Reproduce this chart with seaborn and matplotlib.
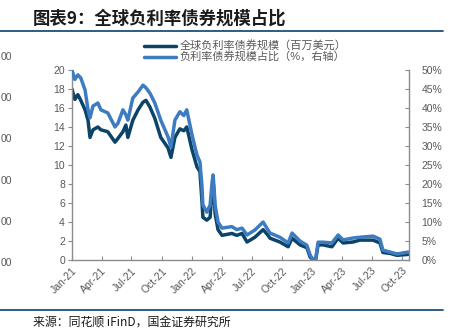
import numpy as np
import pandas as pd
import matplotlib
matplotlib.use("Agg")
import matplotlib.pyplot as plt
import matplotlib.dates as mdates
from matplotlib.lines import Line2D
import seaborn as sns

# ---------------- data ----------------
dates = [
    "2021-01-01", "2021-01-10", "2021-01-19", "2021-01-28", "2021-02-10", "2021-02-19", "2021-02-25",
    "2021-03-06", "2021-03-21", "2021-03-30", "2021-04-20", "2021-05-12", "2021-05-21",
    "2021-06-05", "2021-06-14", "2021-06-20", "2021-07-05", "2021-07-21", "2021-08-05",
    "2021-08-14", "2021-08-26", "2021-09-10", "2021-09-28", "2021-10-20", "2021-10-29",
    "2021-11-10", "2021-11-25", "2021-12-07", "2021-12-16", "2022-01-01", "2022-01-16",
    "2022-01-25", "2022-01-31", "2022-02-03", "2022-02-15", "2022-02-25", "2022-03-03",
    "2022-03-06", "2022-03-09", "2022-03-12", "2022-03-21", "2022-04-02", "2022-05-02",
    "2022-05-17", "2022-06-02", "2022-06-17", "2022-07-11", "2022-08-05", "2022-08-20",
    "2022-08-26", "2022-09-25", "2022-10-20", "2022-11-01", "2022-11-25", "2022-12-16",
    "2022-12-26", "2023-01-02", "2023-01-12", "2023-01-19", "2023-02-03", "2023-03-02", "2023-03-21",
    "2023-04-05", "2023-05-05", "2023-05-26", "2023-07-05", "2023-07-26", "2023-08-04",
    "2023-08-26", "2023-09-16", "2023-10-20",
]
bond_size = [
    18.0, 16.9, 17.4, 16.8, 15.8, 14.7, 12.9,
    13.7, 14.0, 13.7, 13.5, 12.4, 12.8,
    13.5, 14.2, 12.9, 14.7, 15.8, 16.6,
    16.8, 16.1, 14.9, 12.9, 11.8, 10.8,
    12.9, 13.8, 13.6, 14.0, 11.6, 9.8,
    9.3, 6.3, 4.5, 4.2, 4.5, 7.5,
    8.2, 7.0, 4.9, 3.2, 2.6, 2.8,
    2.6, 2.8, 1.9, 2.4, 3.2, 2.6,
    2.3, 1.9, 1.4, 2.3, 1.6, 1.3,
    0.3, 0.1, 0.1, 1.6, 1.6, 1.4, 2.3,
    1.8, 1.9, 2.1, 2.1, 1.8, 0.8,
    0.7, 0.5, 0.6,
]
bond_share = [
    50.0, 47.5, 48.7, 47.9, 44.7, 39.5, 37.4,
    40.5, 41.3, 39.5, 38.7, 35.0, 36.0,
    39.5, 38.2, 36.8, 42.6, 44.2, 46.0,
    45.3, 43.9, 41.3, 36.8, 32.4, 29.7,
    36.8, 39.0, 38.0, 39.5, 32.9, 27.6,
    25.8, 19.7, 14.5, 12.6, 14.5, 20.5,
    22.4, 19.0, 14.5, 10.0, 8.4, 8.8,
    8.0, 8.4, 6.6, 7.9, 10.0, 7.9,
    7.1, 6.0, 4.5, 7.1, 5.0, 3.9,
    1.3, 0.3, 0.3, 4.7, 4.7, 4.5, 6.6,
    5.3, 5.8, 6.0, 6.3, 5.5, 2.6,
    2.1, 1.6, 2.1,
]
left_ticks = list(range(0, 21, 2))
right_ticks = list(range(0, 51, 5))
tick_dates = pd.date_range("2021-01-01", "2023-10-01", freq="3MS")

title_text = "图表9：全球负利率债券规模占比"
legend_labels = ["全球负利率债券规模（百万美元）", "负利率债券规模占比（%，右轴）"]
source_text = "来源：同花顺 iFinD，国金证券研究所"

# ---------------- styling ----------------
sns.set_style("white")
plt.rcParams["font.family"] = ["Liberation Sans", "Noto Sans CJK SC", "DejaVu Sans"]

DARK = "#0b4468"
LIGHT = "#3d7cc0"
GREY = "#595959"
AXGREY = "#8c8c8c"
RULE = "#1f4e79"

df = pd.DataFrame({"date": pd.to_datetime(dates), "size": bond_size, "share": bond_share})

fig = plt.figure(figsize=(4.70, 3.33), dpi=100)
ax = fig.add_axes([0.153, 0.219, 0.717, 0.571])
ax2 = ax.twinx()

sns.lineplot(data=df, x="date", y="size", ax=ax, color=DARK, linewidth=2.5)
sns.lineplot(data=df, x="date", y="share", ax=ax2, color=LIGHT, linewidth=2.5)

ax.set_xlim(pd.Timestamp("2021-01-01"), pd.Timestamp("2023-10-22"))
ax.set_ylim(0, 20)
ax2.set_ylim(0, 50)
ax.set_xlabel("")
ax.set_ylabel("")
ax2.set_xlabel("")
ax2.set_ylabel("")

ax.set_yticks(left_ticks)
ax.set_yticklabels([str(v) for v in left_ticks])
ax2.set_yticks(right_ticks)
ax2.set_yticklabels([f"{v}%" for v in right_ticks])
ax.set_xticks(tick_dates)
ax.set_xticklabels([d.strftime("%b-%y") for d in tick_dates], rotation=45,
                   ha="right", rotation_mode="anchor")

for a in (ax, ax2):
    for s in a.spines.values():
        s.set_visible(False)
ax.spines["left"].set_visible(True)
ax.spines["bottom"].set_visible(True)
ax2.spines["right"].set_visible(True)
for s in (ax.spines["left"], ax.spines["bottom"], ax2.spines["right"]):
    s.set_color(AXGREY)
    s.set_linewidth(1.0)

ax.tick_params(axis="y", which="both", direction="out", length=3, width=0.8,
               color=AXGREY, labelcolor=GREY, labelsize=7.5, pad=2, left=True)
ax.tick_params(axis="x", which="both", direction="in", length=3, width=0.8,
               color=AXGREY, labelcolor=GREY, labelsize=7.5, pad=4, bottom=True)
ax2.tick_params(axis="y", which="both", direction="in", length=3, width=0.8,
                color=AXGREY, labelcolor=GREY, labelsize=7.5, pad=9, right=True)

handles = [Line2D([0], [0], color=DARK, lw=2.5), Line2D([0], [0], color=LIGHT, lw=2.5)]
fig.legend(handles, legend_labels, loc="upper left", bbox_to_anchor=(0.296, 0.892),
           frameon=False, fontsize=8, labelcolor=GREY, handlelength=2.9,
           handletextpad=0.35, labelspacing=0.05, borderaxespad=0)

# header / footer
fig.text(0.07, 0.945, title_text, fontsize=12.5, fontweight="bold", color="#1a1a1a",
         ha="left", va="center", family=["Noto Sans CJK SC", "DejaVu Sans"], style="italic")
fig.add_artist(Line2D([0, 0.943], [0.907, 0.907], color=RULE, lw=1.3, transform=fig.transFigure))
fig.add_artist(Line2D([0, 0.943], [0.069, 0.069], color=RULE, lw=1.3, transform=fig.transFigure))
fig.text(0.07, 0.033, source_text, fontsize=8.6, color="#1a1a1a", ha="left", va="center",
         family=["Noto Sans CJK SC", "DejaVu Sans"])

# tick labels of the neighbouring chart visible at the left edge
for yy in [57, 98, 139, 181, 222, 263]:
    fig.text(0.002, 1 - yy / 333, "00", fontsize=7.5, color=GREY, ha="left", va="center")

fig.savefig("out.png", dpi=100)
